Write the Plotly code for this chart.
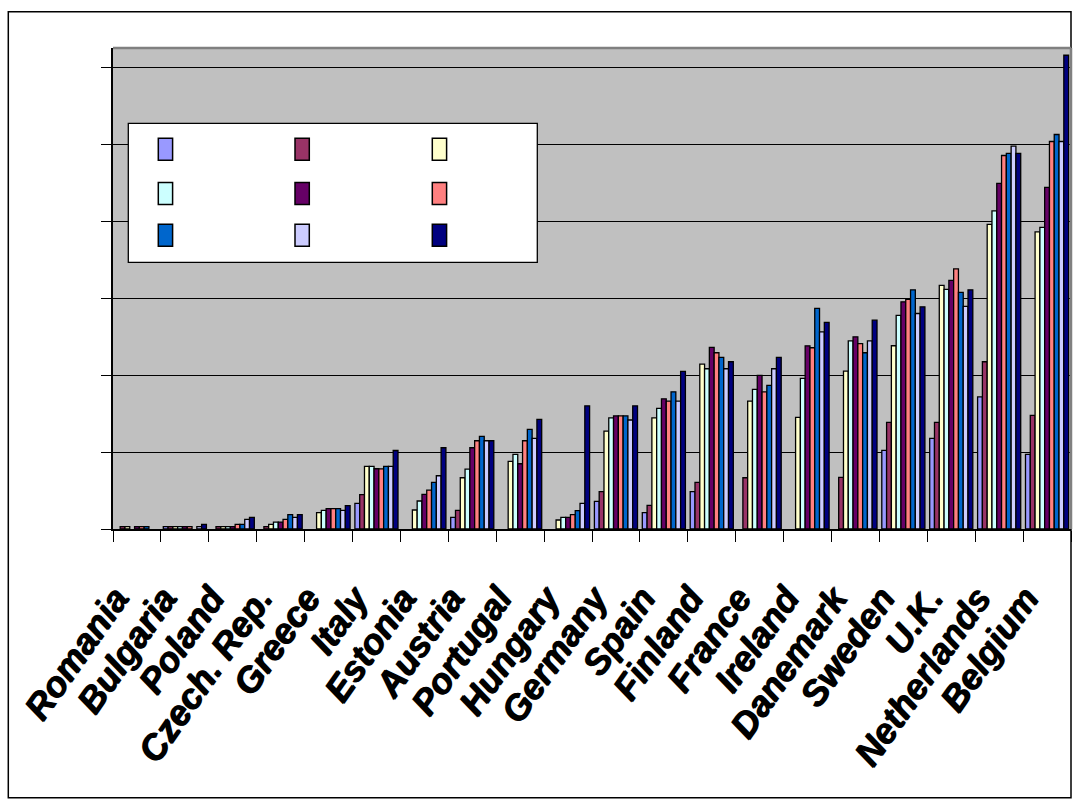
import plotly.graph_objects as go

countries = ["Romania", "Bulgaria", "Poland", "Czech. Rep.", "Greece", "Italy", "Estonia",
             "Austria", "Portugal", "Hungary", "Germany", "Spain", "Finland", "France",
             "Ireland", "Danemark", "Sweden", "U.K.", "Netherlands", "Belgium"]

s1 = [None, 0.3, None, None, None, 3.34, None, 1.52, None, None, 3.6, 2.12, 4.85, None, None, None, 10.22, 11.78, 17.18, 9.7]
s2 = [0.3, 0.3, 0.3, 0.3, None, 4.46, None, 2.43, None, None, 4.85, 3.08, 6.06, 6.66, None, 6.71, 13.86, 13.86, 21.73, 14.77]
s3 = [0.3, 0.3, 0.3, 0.6, 2.12, 8.14, 2.47, 6.66, 8.79, 1.17, 12.73, 14.45, 21.43, 16.62, 14.5, 20.52, 23.81, 31.65, 39.57, 38.61]
s4 = [None, 0.3, 0.3, 0.9, 2.43, 8.14, 3.64, 7.79, 9.7, 1.52, 14.45, 15.67, 20.82, 18.14, 19.57, 24.45, 27.75, 31.13, 41.34, 39.18]
s5 = [0.3, 0.3, 0.3, 0.9, 2.64, 7.83, 4.5, 10.56, 8.48, 1.52, 14.7, 16.92, 23.6, 19.96, 23.8, 24.97, 29.52, 32.3, 44.9, 44.38]
s6 = [0.3, 0.3, 0.6, 1.26, 2.64, 7.8, 5.06, 11.47, 11.47, 1.86, 14.7, 16.62, 22.9, 17.83, 23.55, 24.1, 29.83, 33.81, 48.53, 50.35]
s7 = [0.3, None, 0.6, 1.86, 2.64, 8.14, 6.06, 12.04, 12.95, 2.38, 14.7, 17.83, 22.3, 18.66, 28.66, 22.9, 31.08, 30.74, 48.8, 51.26]
s8 = [None, 0.3, 1.26, 1.52, 2.43, 8.14, 6.92, 11.47, 11.78, 3.34, 14.16, 16.62, 20.82, 20.82, 25.62, 24.45, 28.0, 28.92, 49.74, 50.35]
s9 = [None, 0.6, 1.52, 1.86, 3.03, 10.2, 10.56, 11.47, 14.25, 16.0, 16.0, 20.48, 21.73, 22.3, 26.84, 27.14, 28.87, 31.08, 48.8, 61.56]

series = [s1, s2, s3, s4, s5, s6, s7, s8, s9]
series_names = ["Series 1", "Series 2", "Series 3", "Series 4", "Series 5",
                "Series 6", "Series 7", "Series 8", "Series 9"]
colors = ["#9999FF", "#993366", "#FFFFCC", "#CCFFFF", "#660066",
          "#FF8080", "#0066CC", "#CCCCFF", "#000080"]

fig = go.Figure()
for name, vals, col in zip(series_names, series, colors):
    fig.add_trace(go.Bar(x=countries, y=vals, name=name,
                         marker=dict(color=col, line=dict(color="black", width=1.3)),
                         showlegend=False))

W, H = 1080, 810
ml, mr, mt, mb = 113, 9, 48, 281
pw, ph = W - ml - mr, H - mt - mb

def px_x(x):
    return (x - ml) / pw

def px_y(y):
    return (H - mb - y) / ph

shapes = []
# outer frame
shapes.append(dict(type="rect", xref="paper", yref="paper",
                   x0=px_x(8.3), x1=px_x(1071), y0=px_y(797.7), y1=px_y(11.7),
                   line=dict(color="black", width=1.5), fillcolor="rgba(0,0,0,0)", layer="below"))
# plot area top/right gray border
shapes.append(dict(type="line", xref="paper", yref="paper", x0=0, x1=1, y0=1, y1=1,
                   line=dict(color="#808080", width=2.5), layer="above"))
shapes.append(dict(type="line", xref="paper", yref="paper", x0=1, x1=1, y0=0, y1=1,
                   line=dict(color="#808080", width=2.5), layer="above"))
# legend box
shapes.append(dict(type="rect", xref="paper", yref="paper",
                   x0=px_x(128.3), x1=px_x(537.3), y0=px_y(262.3), y1=px_y(123.3),
                   line=dict(color="black", width=1.3), fillcolor="white", layer="above"))
col_x = [158.3, 295.0, 432.3]
row_y = [138.3, 182.5, 224.3]
for i, col in enumerate(colors):
    r, c = divmod(i, 3)
    x0 = col_x[c]
    y0 = row_y[r]
    shapes.append(dict(type="rect", xref="paper", yref="paper",
                       x0=px_x(x0), x1=px_x(x0 + 14.3), y0=px_y(y0 + 22), y1=px_y(y0),
                       line=dict(color="black", width=1.5), fillcolor=col, layer="above"))

fig.update_layout(
    width=W, height=H,
    margin=dict(l=ml, r=mr, t=mt, b=mb, pad=0),
    paper_bgcolor="white",
    plot_bgcolor="#C0C0C0",
    barmode="group",
    bargap=0.1,
    bargroupgap=0,
    shapes=shapes,
    xaxis=dict(
        type="category",
        categoryorder="array", categoryarray=countries,
        tickson="boundaries",
        ticks="outside", ticklen=11, tickcolor="black", tickwidth=1,
        showline=True, linecolor="black", linewidth=1.5,
        showgrid=False,
        tickangle=-55,
        ticklabelstandoff=32,
        ticklabelshift=-22,
        tickfont=dict(family="Liberation Sans, Arial, sans-serif", size=36,
                      color="black", weight="bold", style="italic",
                      shadow="1px 1px 0px black"),
        fixedrange=True,
    ),
    yaxis=dict(
        range=[0, 62.5],
        dtick=10, tick0=0,
        showticklabels=False,
        ticks="outside", ticklen=10, tickcolor="black", tickwidth=1,
        showline=True, linecolor="black", linewidth=1.5,
        showgrid=True, gridcolor="black", gridwidth=1,
        zeroline=False,
        fixedrange=True,
    ),
)

fig.write_html("out.html")
